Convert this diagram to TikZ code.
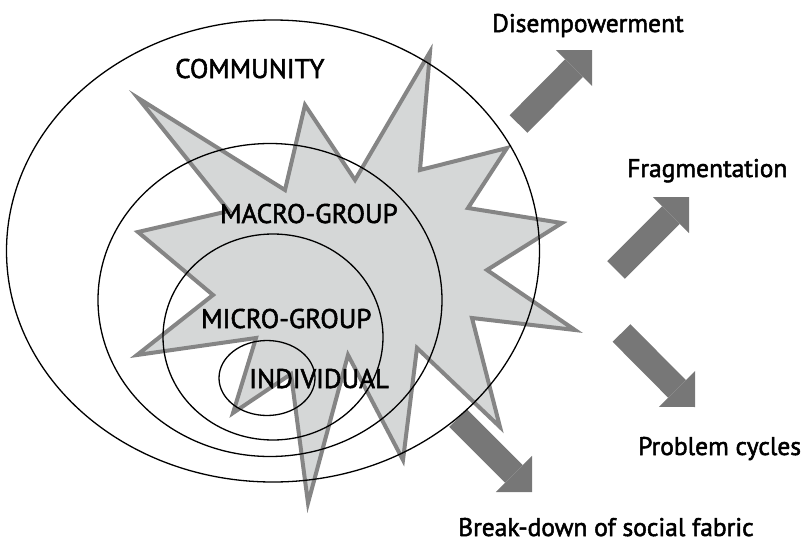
\documentclass[tikz,border=0pt]{standalone}
\usepackage{fontspec}
\setmainfont{PT Sans}[BoldFont=PT Sans,
                      BoldFeatures={FakeBold=2}]
\usepackage{tikz}
\usetikzlibrary{shapes,
                arrows.meta,
                positioning}
\definecolor{burstfill}{HTML}{D5D7D7}
\definecolor{burstline}{HTML}{858585}
\definecolor{arrowgray}{HTML}{777777}
\tikzset{ring/.style =
   {ellipse,
    draw,
    line width=1.3pt,
    inner sep=0pt}}
\tikzset{level/.style =
   {anchor=base west,
    inner sep=0pt,
    text depth=0pt,
    font=\fontsize{27}{27}\selectfont\bfseries}}
\tikzset{outcome/.style =
   {anchor=base west,
    inner sep=0pt,
    text depth=0pt,
    font=\fontsize{25.5}{25.5}\selectfont\bfseries}}
\tikzset{burst/.style =
   {draw=burstline,
    fill=burstfill,
    line width=4pt,
    line join=miter}}
\tikzset{bigarrow/.style =
   {draw=arrowgray,
    line width=25pt,
    -{Triangle[length=25.5pt,width=51pt,line width=0pt]}}}

\begin{document}
\begin{tikzpicture}[x=1pt, y=-1pt]
    \useasboundingbox (0,0) rectangle (807,541);

    % arrows going out of the community
    \coordinate (disemp-tail) at (518.5,124);
    \coordinate (disemp-tip)  at (592,50);
    \coordinate (frag-tail)   at (616,270);
    \coordinate (frag-tip)    at (689,197);
    \coordinate (cycle-tail)  at (621.5,333);
    \coordinate (cycle-tip)   at (695,407);
    \coordinate (break-tail)  at (458,418);
    \coordinate (break-tip)   at (532,492);

    \draw[bigarrow] (disemp-tail) -- (disemp-tip);
    \draw[bigarrow] (frag-tail) -- (frag-tip);
    \draw[bigarrow] (cycle-tail) -- (cycle-tip);
    \draw[bigarrow] (break-tail) -- (break-tip);

    % the explosion
    \draw[burst] (138,98) -- (285,190) -- (305,105) -- (355,180)
                 -- (430,52) -- (420,170) -- (507,148) -- (468,208)
                 -- (562,223) -- (487,270) -- (575,330) -- (472,318)
                 -- (500,427) -- (417,348) -- (403,460) -- (348,355)
                 -- (308,503) -- (291,374) -- (233,413) -- (256,338)
                 -- (137,355) -- (213,295) -- (138,232) -- (229,211)
                 -- cycle;

    % nested levels
    \node[ring,
          minimum width=533pt,
          minimum height=462pt] (community) at (273,251) {};
    \node[ring,
          minimum width=344pt,
          minimum height=313pt] (macro) at (270,300) {};
    \node[ring,
          minimum width=220pt,
          minimum height=206pt] (micro) at (273,337) {};
    \node[ring,
          minimum width=96pt,
          minimum height=75pt] (individual) at (267,378) {};

    \node[level] (community-label) at (175,78) {COMMUNITY};
    \node[level] (macro-label) at (220,223) {MACRO-GROUP};
    \node[level] (micro-label) at (201,328) {MICRO-GROUP};
    \node[level] (individual-label) at (249,388) {INDIVIDUAL};

    \node[outcome] (disemp) at (492,32) {Disempowerment};
    \node[outcome] (frag) at (627,177) {Fragmentation};
    \node[outcome] (cycle) at (638,455) {Problem cycles};
    \node[outcome] (break) at (458,536) {Break-down of social fabric};

\end{tikzpicture}
\end{document}
